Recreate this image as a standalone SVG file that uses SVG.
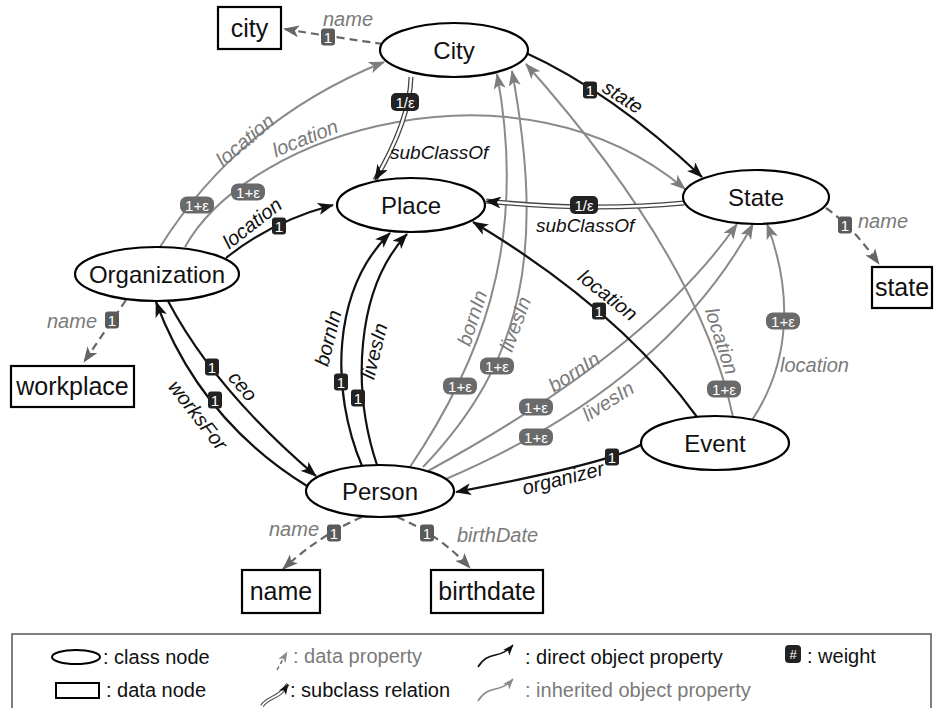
<svg xmlns="http://www.w3.org/2000/svg" width="935" height="708" viewBox="0 0 935 708">
<style>
.node ellipse{fill:#fff;stroke:#000;stroke-width:2.2}
.data rect{fill:#fff;stroke:#000;stroke-width:2.2}
.nt{font-family:"Liberation Sans",Arial,sans-serif;font-size:24px;text-anchor:middle;fill:#111}
.dt{font-family:"Liberation Sans",Arial,sans-serif;font-size:25px;text-anchor:middle;fill:#111}
.d{stroke:#111;stroke-width:2.2;fill:none;marker-end:url(#ab)}
.g{stroke:#8a8a8a;stroke-width:2;fill:none;marker-end:url(#ag)}
.dp{stroke:#666;stroke-width:2.2;stroke-dasharray:8 5;fill:none;marker-end:url(#ad)}
.so{stroke:#444;stroke-width:5;fill:none}
.si{stroke:#fff;stroke-width:2.4;fill:none;marker-end:url(#ab)}
.lb{font-family:"Liberation Sans",Arial,sans-serif;font-style:italic;font-size:20px}
.sc{font-size:19px}
.lk{fill:#111}
.lg{fill:#7a7a7a}
.bk rect{fill:#222}
.bg rect{fill:#6a6a6a}
.bd rect{fill:#5a5a5a}
.bt{font-family:"Liberation Sans",Arial,sans-serif;font-size:15px;fill:#fff;text-anchor:middle}
.leg{font-family:"Liberation Sans",Arial,sans-serif;font-size:20px;fill:#111}
.legg{font-family:"Liberation Sans",Arial,sans-serif;font-size:20px;fill:#7a7a7a}
</style>
<defs>
<marker id="ab" viewBox="0 0 16 12" refX="15" refY="6" markerWidth="16" markerHeight="12" markerUnits="userSpaceOnUse" orient="auto"><path d="M0,0 L16,6 L0,12 L4,6 z" fill="#111"/></marker>
<marker id="ag" viewBox="0 0 16 12" refX="15" refY="6" markerWidth="16" markerHeight="12" markerUnits="userSpaceOnUse" orient="auto"><path d="M0,0 L16,6 L0,12 L4,6 z" fill="#7d7d7d"/></marker>
<marker id="ad" viewBox="0 0 16 12" refX="15" refY="6" markerWidth="16" markerHeight="12" markerUnits="userSpaceOnUse" orient="auto"><path d="M0,0 L16,6 L0,12 L4,6 z" fill="#666"/></marker>
<marker id="abs" viewBox="0 0 16 12" refX="15" refY="6" markerWidth="11" markerHeight="9" markerUnits="userSpaceOnUse" orient="auto"><path d="M0,0 L16,6 L0,12 L4,6 z" fill="#111"/></marker>
<marker id="ags" viewBox="0 0 16 12" refX="15" refY="6" markerWidth="11" markerHeight="9" markerUnits="userSpaceOnUse" orient="auto"><path d="M0,0 L16,6 L0,12 L4,6 z" fill="#8a8a8a"/></marker>
</defs>
<rect width="935" height="708" fill="#fff"/>

<g id="connectors">
  <!-- inherited object properties -->
  <path class="g" d="M160 247 Q240 120 384 62"/>
  <path class="g" d="M185 247 C250 130 520 50 685 189"/>
  <path class="g" d="M410 467 C475 370 530 250 497 74"/>
  <path class="g" d="M423 467 C525 360 545 250 512 71"/>
  <path class="g" d="M428 471 Q650 350 737 224"/>
  <path class="g" d="M446 479 Q665 385 753 224"/>
  <path class="g" d="M733 417 Q700 260 526 64"/>
  <path class="g" d="M752 420 C792 360 792 290 767 224"/>
  <!-- subclass relations -->
  <path class="so" d="M411 77 Q410 120 375 180"/>
  <path class="si" d="M411 77 Q410 120 375 180"/>
  <path class="so" d="M684 203 Q590 212 486 201"/>
  <path class="si" d="M684 203 Q590 212 486 201"/>
  <!-- direct object properties -->
  <path class="d" d="M524 52 Q612 92 702 177"/>
  <path class="d" d="M226 258 Q270 222 333 205"/>
  <path class="d" d="M168 301 Q215 390 316 476"/>
  <path class="d" d="M307 486 Q200 420 156 302"/>
  <path class="d" d="M362 466 C330 390 332 290 390 233"/>
  <path class="d" d="M377 465 C352 390 355 290 407 234"/>
  <path class="d" d="M697 417 Q620 310 473 222"/>
  <path class="d" d="M642 444 Q615 462 456 492"/>
  <!-- data properties -->
  <path class="dp" d="M383 44 Q340 38 284 29"/>
  <path class="dp" d="M826 208 Q852 226 879 264"/>
  <path class="dp" d="M126 300 L84 362"/>
  <path class="dp" d="M362 517 Q320 535 283 569"/>
  <path class="dp" d="M397 517 Q440 535 470 568"/>

  <!-- labels -->
  <text class="lb lg" x="348" y="26" text-anchor="middle">name</text>
  <text class="lb lg" x="858" y="228">name</text>
  <text class="lb lg" x="47" y="328">name</text>
  <text class="lb lg" x="294" y="536" text-anchor="middle">name</text>
  <text class="lb lg" x="457" y="542">birthDate</text>
  <text class="lb lk sc" x="390" y="159">subClassOf</text>
  <text class="lb lk sc" x="536" y="232">subClassOf</text>
  <text class="lb lk" text-anchor="middle" transform="translate(623,97) rotate(33)" y="7">state</text>
  <text class="lb lk" text-anchor="middle" transform="translate(252,223) rotate(-38)" y="7">location</text>
  <text class="lb lg" text-anchor="middle" transform="translate(245,140) rotate(-40)" y="7">location</text>
  <text class="lb lg" text-anchor="middle" transform="translate(305,138) rotate(-22)" y="7">location</text>
  <text class="lb lk" text-anchor="middle" transform="translate(243,386) rotate(50)" y="7">ceo</text>
  <text class="lb lk" text-anchor="middle" transform="translate(198,415) rotate(52)" y="7">worksFor</text>
  <text class="lb lk" text-anchor="middle" transform="translate(328,338) rotate(-76)" y="7">bornIn</text>
  <text class="lb lk" text-anchor="middle" transform="translate(374,351) rotate(-76)" y="7">livesIn</text>
  <text class="lb lg" text-anchor="middle" transform="translate(472,318) rotate(-72)" y="7">bornIn</text>
  <text class="lb lg" text-anchor="middle" transform="translate(515,324) rotate(-70)" y="7">livesIn</text>
  <text class="lb lg" text-anchor="middle" transform="translate(574,372) rotate(-33)" y="7">bornIn</text>
  <text class="lb lg" text-anchor="middle" transform="translate(608,401) rotate(-32)" y="7">livesIn</text>
  <text class="lb lk" text-anchor="middle" transform="translate(608,295) rotate(38)" y="7">location</text>
  <text class="lb lg" text-anchor="middle" transform="translate(722,341) rotate(72)" y="7">location</text>
  <text class="lb lg" x="780" y="372">location</text>
  <text class="lb lk" text-anchor="middle" transform="translate(563,478) rotate(-14)" y="7">organizer</text>

  <!-- weight badges -->
  <g class="bd" transform="translate(328,37)"><rect x="-7" y="-8.5" width="14" height="17" rx="3"/><text class="bt" y="5.5">1</text></g>
  <g class="bd" transform="translate(845,225)"><rect x="-7" y="-8.5" width="14" height="17" rx="3"/><text class="bt" y="5.5">1</text></g>
  <g class="bd" transform="translate(112,320)"><rect x="-7" y="-8.5" width="14" height="17" rx="3"/><text class="bt" y="5.5">1</text></g>
  <g class="bd" transform="translate(334,533)"><rect x="-7" y="-8.5" width="14" height="17" rx="3"/><text class="bt" y="5.5">1</text></g>
  <g class="bd" transform="translate(427,533)"><rect x="-7" y="-8.5" width="14" height="17" rx="3"/><text class="bt" y="5.5">1</text></g>
  <g class="bk" transform="translate(279,226)"><rect x="-7" y="-8.5" width="14" height="17" rx="3"/><text class="bt" y="5.5">1</text></g>
  <g class="bk" transform="translate(590,90)"><rect x="-7" y="-8.5" width="14" height="17" rx="3"/><text class="bt" y="5.5">1</text></g>
  <g class="bk" transform="translate(599,311)"><rect x="-7" y="-8.5" width="14" height="17" rx="3"/><text class="bt" y="5.5">1</text></g>
  <g class="bk" transform="translate(212,367)"><rect x="-7" y="-8.5" width="14" height="17" rx="3"/><text class="bt" y="5.5">1</text></g>
  <g class="bk" transform="translate(215,400)"><rect x="-7" y="-8.5" width="14" height="17" rx="3"/><text class="bt" y="5.5">1</text></g>
  <g class="bk" transform="translate(341,382)"><rect x="-7" y="-8.5" width="14" height="17" rx="3"/><text class="bt" y="5.5">1</text></g>
  <g class="bk" transform="translate(358,398)"><rect x="-7" y="-8.5" width="14" height="17" rx="3"/><text class="bt" y="5.5">1</text></g>
  <g class="bk" transform="translate(612,457)"><rect x="-7" y="-8.5" width="14" height="17" rx="3"/><text class="bt" y="5.5">1</text></g>
  <g class="bk" transform="translate(405,102)"><rect x="-14" y="-9" width="28" height="18" rx="5"/><text class="bt" y="5.5">1/ε</text></g>
  <g class="bk" transform="translate(584,205)"><rect x="-14" y="-9" width="28" height="18" rx="5"/><text class="bt" y="5.5">1/ε</text></g>
  <g class="bg" transform="translate(197,205)"><rect x="-17" y="-8.5" width="34" height="17" rx="7"/><text class="bt" y="5.5">1+ε</text></g>
  <g class="bg" transform="translate(248,192)"><rect x="-17" y="-8.5" width="34" height="17" rx="7"/><text class="bt" y="5.5">1+ε</text></g>
  <g class="bg" transform="translate(460,386)"><rect x="-17" y="-8.5" width="34" height="17" rx="7"/><text class="bt" y="5.5">1+ε</text></g>
  <g class="bg" transform="translate(497,366)"><rect x="-17" y="-8.5" width="34" height="17" rx="7"/><text class="bt" y="5.5">1+ε</text></g>
  <g class="bg" transform="translate(536,407)"><rect x="-17" y="-8.5" width="34" height="17" rx="7"/><text class="bt" y="5.5">1+ε</text></g>
  <g class="bg" transform="translate(536,437)"><rect x="-17" y="-8.5" width="34" height="17" rx="7"/><text class="bt" y="5.5">1+ε</text></g>
  <g class="bg" transform="translate(724,389)"><rect x="-17" y="-8.5" width="34" height="17" rx="7"/><text class="bt" y="5.5">1+ε</text></g>
  <g class="bg" transform="translate(783,321)"><rect x="-17" y="-8.5" width="34" height="17" rx="7"/><text class="bt" y="5.5">1+ε</text></g>
</g>

<g id="City" class="node"><ellipse cx="454" cy="50" rx="74" ry="27"/><text class="nt" x="454" y="59">City</text></g>
<g id="State" class="node"><ellipse cx="756" cy="197" rx="73" ry="27"/><text class="nt" x="756" y="206">State</text></g>
<g id="Place" class="node"><ellipse cx="411" cy="205" rx="74" ry="27"/><text class="nt" x="411" y="214">Place</text></g>
<g id="Organization" class="node"><ellipse cx="157" cy="274" rx="82" ry="27"/><text class="nt" x="157" y="283">Organization</text></g>
<g id="Event" class="node"><ellipse cx="715" cy="443" rx="74" ry="27"/><text class="nt" x="715" y="452">Event</text></g>
<g id="Person" class="node"><ellipse cx="380" cy="491" rx="74" ry="26"/><text class="nt" x="380" y="500">Person</text></g>

<g id="city" class="data"><rect x="218" y="7" width="63" height="42"/><text class="dt" x="249.5" y="37">city</text></g>
<g id="state" class="data"><rect x="872" y="267" width="60" height="41"/><text class="dt" x="902" y="296">state</text></g>
<g id="workplace" class="data"><rect x="11" y="366" width="123" height="41"/><text class="dt" x="72.5" y="395">workplace</text></g>
<g id="name" class="data"><rect x="242" y="570" width="78" height="43"/><text class="dt" x="281" y="600">name</text></g>
<g id="birthdate" class="data"><rect x="431" y="570" width="112" height="43"/><text class="dt" x="487" y="600">birthdate</text></g>

<g id="legend">
  <rect x="12" y="634" width="919" height="80" fill="none" stroke="#555" stroke-width="1.5"/>
  <ellipse cx="76" cy="657" rx="24" ry="7" fill="#fff" stroke="#000" stroke-width="2"/>
  <text class="leg" x="103" y="664">: class node</text>
  <rect x="56" y="683" width="43" height="15" fill="#fff" stroke="#000" stroke-width="2"/>
  <text class="leg" x="106" y="697">: data node</text>
  <path d="M277 670 L287 652" stroke="#666" stroke-width="1.5" stroke-dasharray="4 3" fill="none" marker-end="url(#ags)"/>
  <text class="legg" x="293" y="663">: data property</text>
  <path d="M262 706 C268 696 278 700 288 684" stroke="#555" stroke-width="4" fill="none"/>
  <path d="M262 706 C268 696 278 700 288 684" stroke="#fff" stroke-width="1.8" fill="none" marker-end="url(#abs)"/>
  <text class="leg" x="290" y="697">: subclass relation</text>
  <path d="M478 667 C488 650 500 660 513 645" stroke="#111" stroke-width="1.5" fill="none" marker-end="url(#abs)"/>
  <text class="leg" x="525" y="664">: direct object property</text>
  <path d="M478 701 C488 684 500 694 513 679" stroke="#8a8a8a" stroke-width="1.5" fill="none" marker-end="url(#ags)"/>
  <text class="legg" x="525" y="697">: inherited object property</text>
  <rect x="785" y="645" width="16" height="18" rx="4" fill="#222"/>
  <text class="bt" x="793" y="659" style="font-size:13px">#</text>
  <text class="leg" x="807" y="663">: weight</text>
</g>
</svg>
